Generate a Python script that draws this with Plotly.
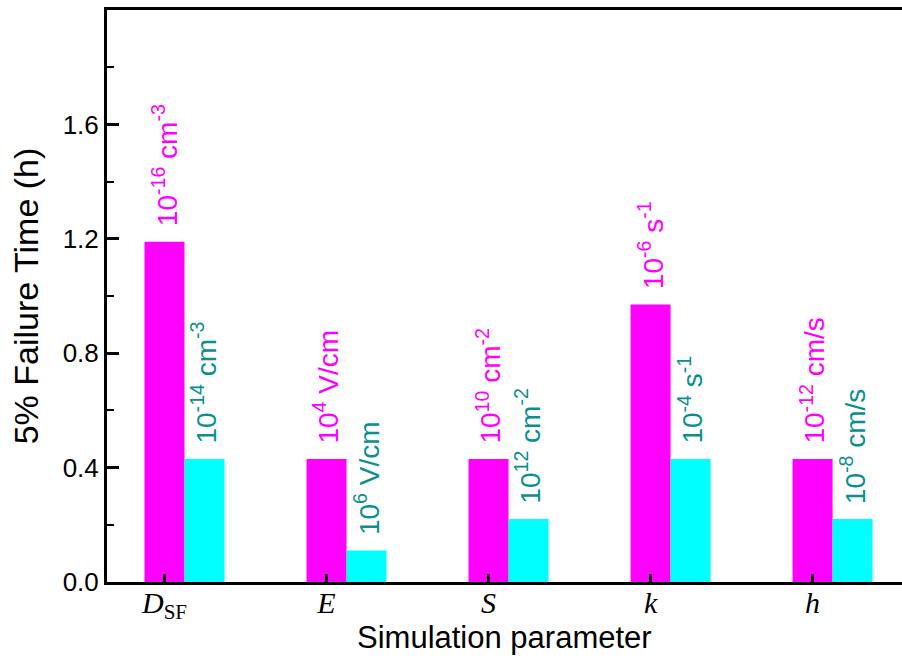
import plotly.graph_objects as go

categories = ["<i>D</i><sub>SF</sub>", "<i>E</i>", "<i>S</i>", "<i>k</i>", "<i>h</i>"]
low_values = [1.19, 0.43, 0.43, 0.97, 0.43]
high_values = [0.43, 0.11, 0.22, 0.43, 0.22]
low_labels = ["10<sup>-16</sup> cm<sup>-3</sup>", "10<sup>4</sup> V/cm", "10<sup>10</sup> cm<sup>-2</sup>",
              "10<sup>-6</sup> s<sup>-1</sup>", "10<sup>-12</sup> cm/s"]
high_labels = ["10<sup>-14</sup> cm<sup>-3</sup>", "10<sup>6</sup> V/cm", "10<sup>12</sup> cm<sup>-2</sup>",
               "10<sup>-4</sup> s<sup>-1</sup>", "10<sup>-8</sup> cm/s"]
y_ticks = [0.0, 0.4, 0.8, 1.2, 1.6]
x_title = "Simulation parameter"
y_title = "5% Failure Time (h)"

MAGENTA = "#FF00FF"
CYAN = "#00FFFF"
TEAL = "#0A9090"
W = 0.247

idx = list(range(len(categories)))
x_low = [i for i in idx]
x_high = [i + W for i in idx]

fig = go.Figure()
fig.add_trace(go.Bar(x=x_low, y=low_values, width=W, marker=dict(color=MAGENTA, line=dict(width=0)),
                     showlegend=False))
fig.add_trace(go.Bar(x=x_high, y=high_values, width=W, marker=dict(color=CYAN, line=dict(width=0)),
                     showlegend=False))

for xs, ys, labs, col in [(x_low, low_values, low_labels, MAGENTA), (x_high, high_values, high_labels, TEAL)]:
    for x, y, t in zip(xs, ys, labs):
        fig.add_annotation(x=x, y=y, text=t, textangle=-90, showarrow=False,
                           xanchor="center", yanchor="bottom", yshift=13,
                           font=dict(family="Liberation Sans", size=28, color=col))

fig.add_annotation(x=0.5, y=-0.0962, xref="paper", yref="paper", xanchor="center", yanchor="middle",
                   text=x_title, showarrow=False,
                   font=dict(family="Liberation Sans", size=31, color="black"))

fig.update_layout(
    width=902, height=663,
    margin=dict(l=107, r=0, t=10, b=81),
    paper_bgcolor="white", plot_bgcolor="white",
    barmode="overlay",
    font=dict(family="Liberation Sans", color="black"),
)
fig.update_xaxes(
    range=[-0.355, 4.552],
    tickvals=idx, ticktext=categories,
    tickfont=dict(family="Liberation Serif", size=30, color="black"),
    ticks="inside", ticklen=8, tickwidth=3, tickcolor="black",
    ticklabelstandoff=-8,
    showline=True, linewidth=3, linecolor="black", mirror=True,
    showgrid=False, zeroline=False,
)
fig.update_yaxes(
    range=[0, 2.0],
    tickvals=y_ticks, tickformat=".1f",
    tickfont=dict(family="Liberation Sans", size=26, color="black"),
    ticks="inside", ticklen=12, tickwidth=3, tickcolor="black",
    minor=dict(dtick=0.2, tick0=0, ticks="inside", ticklen=7, tickwidth=2, tickcolor="black"),
    showline=True, linewidth=3, linecolor="black", mirror=False,
    showgrid=False, zeroline=False,
    title=dict(text=y_title, font=dict(family="Liberation Sans", size=34), standoff=14),
)

fig.write_html("out.html")
